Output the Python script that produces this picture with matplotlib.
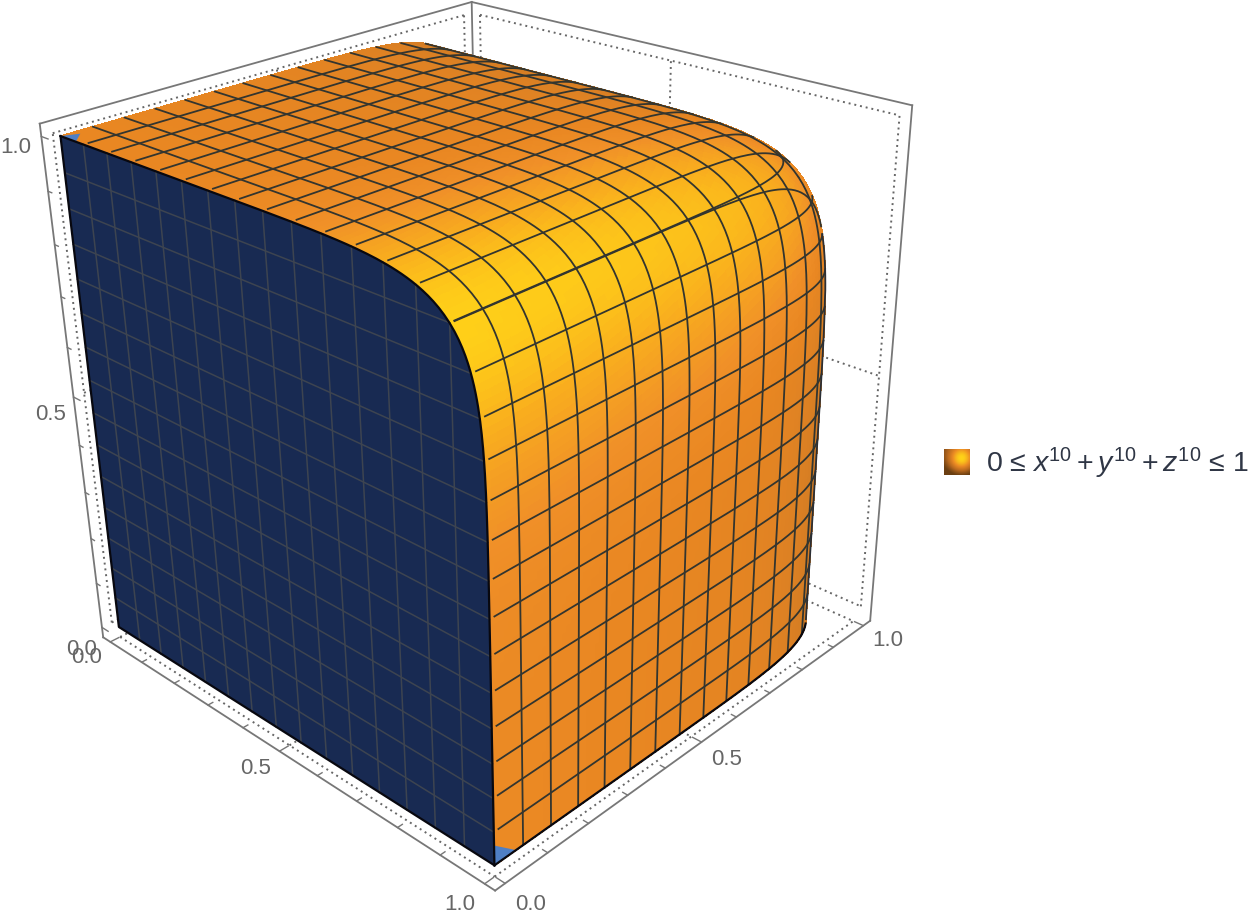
import numpy as np
import matplotlib
matplotlib.use("Agg")
import matplotlib.pyplot as plt
from matplotlib.colors import LinearSegmentedColormap
from mpl_toolkits.mplot3d.art3d import Poly3DCollection

plt.rcParams['font.family'] = ['Liberation Sans', 'DejaVu Sans']
plt.rcParams['mathtext.fontset'] = 'custom'
plt.rcParams['mathtext.rm'] = 'Liberation Sans'
plt.rcParams['mathtext.it'] = 'Liberation Sans:italic'

W, H = 1250, 912

# chart values
power = 10
tick_values = [0.0, 0.5, 1.0]
tick_labels = ['0.0', '0.5', '1.0']
minor_ticks = [i / 10 for i in range(11)]
mesh_levels = [i / 15 for i in range(1, 15)]
legend_label = r'0 ≤ $x^{10}+y^{10}+z^{10}$ ≤ 1'

PAD = 0.023  # box padding around the data range


def fit_camera():
  # read the box corners off the picture, then solve the 3x4 camera (DLT)
  lo, hi = -PAD, 1 + PAD
  world = [(lo, lo, hi), (lo, hi, hi), (hi, hi, hi), (lo, lo, lo), (hi, lo, lo), (hi, hi, lo),
           (0, 0, 1), (1, 0, 0)]
  pix = [(40, 125), (472, 3), (912, 106), (103, 638), (495, 890), (870, 622), (60, 137), (495, 868)]
  rows = []
  for (x, y, z), (u, v) in zip(world, pix):
    v = H - v
    rows.append([x, y, z, 1, 0, 0, 0, 0, -u*x, -u*y, -u*z, -u])
    rows.append([0, 0, 0, 0, x, y, z, 1, -v*x, -v*y, -v*z, -v])
  P = np.linalg.svd(np.array(rows))[2][-1].reshape(3, 4)
  if P[2] @ [0.5, 0.5, 0.5, 1] < 0:
    P = -P
  return P


P = fit_camera()
P = P / (P[2] @ [0.5, 0.5, 0.5, 1])
M = np.array([P[0], P[1], P[2] - [0, 0, 0, 0.5], P[2]])
cam = np.linalg.svd(P)[2][-1]
cam = cam[:3] / cam[3]

fig = plt.figure(figsize=(W / 100, H / 100), dpi=100)
ax = fig.add_axes([0, (H - W) / 2 / H, 1, W / H], projection='3d', computed_zorder=False)
ax.get_proj = lambda: M
ax.set_proj_type('ortho')  # keeps Line3D from clipping to the unit square
ax.set_axis_off()


def level_curve(s, n=90):
  # both branches of u^10 + v^10 = s
  m = (s / 2) ** (1 / power)
  a = np.linspace(0, m, n)
  b = np.maximum(s - a ** power, 0) ** (1 / power)
  return np.r_[a, b[::-1]], np.r_[b, a[::-1]]


def visible(x, y, z):
  nx, ny, nz = x ** (power - 1), y ** (power - 1), z ** (power - 1)
  return nx * (cam[0] - x) + ny * (cam[1] - y) + nz * (cam[2] - z) > 0


def surface_colors(x, y, z):
  # softer normals than the real ones, the highlight in the picture is wide
  nx, ny, nz = x ** 5, y ** 5, z ** 5
  nn = np.sqrt(nx ** 2 + ny ** 2 + nz ** 2)
  s = (0.71 * nx - 0.12 * ny + 0.69 * nz) / nn
  s = s - 0.09 * y
  return shade((s + 0.2) / 1.2)


shade = LinearSegmentedColormap.from_list('orange', [
  (0.0, '#b5681f'), (0.55, '#cf7a24'), (0.74, '#e98722'), (0.80, '#f09028'), (0.9, '#f9ae1e'), (1.0, '#ffd218')])

# surface, sampled by direction
theta = np.linspace(0, np.pi / 2, 170)
phi = np.linspace(0, np.pi / 2, 170)
T, F = np.meshgrid(theta, phi)
dx, dy, dz = np.sin(F) * np.cos(T), np.sin(F) * np.sin(T), np.cos(F)
r = (dx ** power + dy ** power + dz ** power) ** (-1 / power)
X, Y, Z = dx * r, dy * r, dz * r
ax.plot_surface(X, Y, Z, facecolors=surface_colors(X, Y, Z), rstride=1, cstride=1,
                shade=False, linewidth=0.4, antialiased=False, zorder=3)

# flat face on y = 0
fx, fz = level_curve(1.0)
face = list(zip(fx, 0 * fx, fz)) + [(0, 0, 0)]
ax.add_collection3d(Poly3DCollection([face], facecolors='#182a52', edgecolors='none', zorder=4))
for tri in ([(0, 0, 1), (0.045, 0, 1), (0.015, 0.03, 1)], [(1, 0, 0), (1, 0, 0.04), (1, 0.05, 0)]):
  ax.add_collection3d(Poly3DCollection([tri], facecolors='#4f7fc4', edgecolors='none', zorder=4))

# mesh on the flat face
for c in mesh_levels:
  top = (1 - c ** power) ** (1 / power)
  ax.plot([c, c], [0, 0], [0, top], color='#3d4450', lw=1.1, zorder=5)
  ax.plot([0, top], [0, 0], [c, c], color='#3d4450', lw=1.1, zorder=5)

# mesh on the curved surface, one family per coordinate
for c in mesh_levels:
  s = 1 - c ** power
  a, b = level_curve(s)
  cc = np.full_like(a, c)
  for x, y, z in ((cc, a, b), (a, cc, b), (a, b, cc)):
    keep = visible(x, y, z) & (y > 0.003)
    ax.plot(np.where(keep, x, np.nan), y, z, color='#33352f', lw=1.3, zorder=6)

# outlines
ax.plot(fx, 0 * fx, fz, color='#08080f', lw=1.6, zorder=7)
ax.plot([0, 0, 1], [0, 0, 0], [1, 0, 0], color='#08080f', lw=1.6, zorder=7)
a, b = level_curve(1.0)
keep = visible(a, b, 0 * a)
ax.plot(np.where(keep, a, np.nan), b, 0 * a, color='#08080f', lw=1.6, zorder=7)

# right silhouette, the first visible point of each height
sil = []
for z0 in np.linspace(0.01, 0.8, 60):
  a, b = level_curve(1 - z0 ** power)
  i = np.argmax(visible(a, b, np.full_like(a, z0)))
  sil.append((a[i], b[i], z0))
ax.plot(*zip(*sil), color='#2b2f35', lw=1.3, zorder=7)

# box: solid frame on the visible outer edges
lo, hi = -PAD, 1 + PAD
edges = [((lo, lo, lo), (lo, lo, hi)), ((hi, hi, lo), (hi, hi, hi)), ((lo, hi, lo), (lo, hi, hi)),
         ((lo, lo, hi), (lo, hi, hi)), ((lo, hi, hi), (hi, hi, hi)),
         ((lo, lo, lo), (hi, lo, lo)), ((hi, lo, lo), (hi, hi, lo))]
for p, q in edges:
  ax.plot(*zip(p, q), color='#777777', lw=1.3, zorder=1)

# dotted face grids on the three back faces
dots = dict(color='#666666', lw=1.4, ls=(0, (1, 2)), zorder=1)
for v in (0, 0.5, 1):
  ax.plot([lo, lo], [v, v], [0, 1], **dots)
  ax.plot([lo, lo], [0, 1], [v, v], **dots)
  ax.plot([v, v], [hi, hi], [0, 1], **dots)
  ax.plot([0, 1], [hi, hi], [v, v], **dots)
  ax.plot([v, v], [0, 1], [lo, lo], **dots)
  ax.plot([0, 1], [v, v], [lo, lo], **dots)

# ticks
for t in minor_ticks:
  d = 0.02 if t in tick_values else 0.011
  ax.plot([t, t], [lo, lo + d], [lo, lo], color='#777777', lw=1, zorder=8)
  ax.plot([hi, hi - d], [t, t], [lo, lo], color='#777777', lw=1, zorder=8)
  ax.plot([lo, lo + d], [lo, lo], [t, t], color='#777777', lw=1, zorder=8)


def figure_text(x, y, z, s):
  # tick label at a box position, as plain figure text
  u, v, w = P @ [x, y, z, 1]
  fig.text(u / w / W, v / w / H, s, color='#666666', fontsize=16, ha='center', va='center')


# tick labels
for t, lab in zip(tick_values, tick_labels):
  figure_text(t, lo - 0.055, lo - 0.005, lab)
  figure_text(hi + 0.055, t, lo - 0.007, lab)
  figure_text(lo - 0.085, lo, t - 0.088 + 0.05 * t, lab)

# legend
gx, gy = np.meshgrid(np.linspace(0, 1, 40), np.linspace(0, 1, 40))
swatch = np.exp(-((gx - 0.68) ** 2 + (gy - 0.62) ** 2) * 3.2) - 0.25 * (1 - gy)
swatch_map = LinearSegmentedColormap.from_list('swatch', ['#6b3f12', '#b8691f', '#ec8b24', '#ffd218'])
lax = fig.add_axes([944 / W, 1 - 476 / H, 26 / W, 26 / H])
lax.imshow(swatch, cmap=swatch_map, origin='lower', aspect='auto', vmin=0.0, vmax=0.9)
lax.set_axis_off()
fig.text(986 / W, 1 - 463 / H, legend_label, fontsize=20.5, color='#2f3645', ha='left', va='center')

# camera output is in picture pixels, so the 2D view is too
ax.viewLim.intervalx = (0, W)
ax.viewLim.intervaly = ((H - W) / 2, (H + W) / 2)

fig.savefig('out.png', dpi=100, facecolor='white')
